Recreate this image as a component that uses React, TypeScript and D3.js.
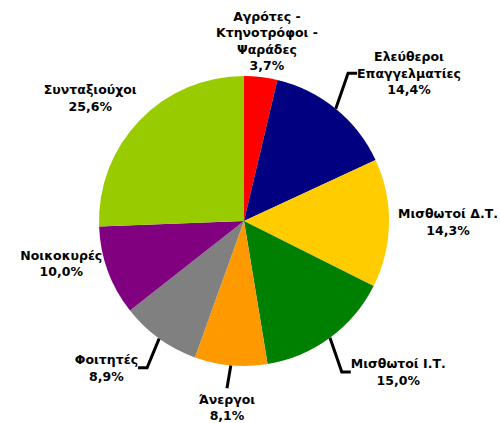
import React, { useMemo } from 'react';
import * as d3 from 'd3';

// occupation groups, clockwise from 12 o'clock
const categories = [
  ['Αγρότες -', 'Κτηνοτρόφοι -', 'Ψαράδες'],
  ['Ελεύθεροι', 'Επαγγελματίες'],
  ['Μισθωτοί Δ.Τ.'],
  ['Μισθωτοί Ι.Τ.'],
  ['Άνεργοι'],
  ['Φοιτητές'],
  ['Νοικοκυρές'],
  ['Συνταξιούχοι'],
];
const shares = [3.7, 14.4, 14.3, 15.0, 8.1, 8.9, 10.0, 25.6];
const colors = ['#FF0000', '#000080', '#FFCC00', '#008000', '#FF9900', '#808080', '#800080', '#99CC00'];

// label placement: distance from centre, angle nudge (deg), leader type
const labelLayout = [
  { r: 149, da: 2.2, leader: 'none' },
  { r: 186, da: -1.8, leader: 'side' },
  { r: 154, da: -0.5, leader: 'none' },
  { r: 185, da: 1.1, leader: 'side' },
  { r: 168, da: 0.6, leader: 'top' },
  { r: 181, da: 0, leader: 'side' },
  { r: 148, da: 3.4, leader: 'none' },
  { r: 151, da: 0.8, leader: 'none' },
];

const width = 500;
const height = 423;
const cx = 244;
const cy = 221;
const radius = 145;
const lineH = 16.5;
const font = "bold 12.5px 'DejaVu Sans'";

const polar = (a: number, r: number) => [cx + r * Math.sin(a), cy - r * Math.cos(a)];

const App = () => {
  const measure = useMemo(() => {
    const ctx = document.createElement('canvas').getContext('2d');
    return (t: string) => {
      if (!ctx) return t.length * 7.5;
      ctx.font = font;
      return ctx.measureText(t).width;
    };
  }, []);

  const arcs = d3.pie<number>().sort(null).value((d) => d)(shares);
  const arcGen = d3.arc<d3.PieArcDatum<number>>().innerRadius(0).outerRadius(radius);

  const labels = arcs.map((a, i) => {
    const lay = labelLayout[i];
    const mid = (a.startAngle + a.endAngle) / 2;
    const ang = mid + (lay.da * Math.PI) / 180;
    const [ax, ay] = polar(ang, lay.r);
    const lines = [...categories[i], shares[i].toFixed(1).replace('.', ',') + '%'];
    const w = d3.max(lines, measure) || 0;
    const h = lines.length * lineH;
    const s = Math.sin(ang);
    const c = Math.cos(ang);
    let bx = ax;
    let by = ay;
    let leader: string | null = null;
    if (lay.leader === 'side') {
      bx = s > 0 ? ax + w / 2 : ax - w / 2;
      by = ay;
      const [sx, sy] = polar(mid, radius);
      const ex = s > 0 ? ax - 9 : ax + 9;
      leader = `M${sx},${sy}L${ex},${ay}L${ax},${ay}`;
    } else if (lay.leader === 'top') {
      bx = ax;
      by = ay + 3 + h / 2;
      const [sx, sy] = polar(mid, radius);
      leader = `M${sx},${sy}L${ax},${ay}`;
    } else {
      bx = s > 0.3 ? ax + w / 2 : s < -0.3 ? ax - w / 2 : ax;
      by = c > 0.3 ? ay - h / 2 : c < -0.3 ? ay + h / 2 : ay;
    }
    return { lines, bx, by, h, leader };
  });

  return (
    <svg width={width} height={height} style={{ position: 'absolute', left: 0, top: 0 }}>
      <rect width={width} height={height} fill="#fff" />
      {arcs.map((a, i) => (
        <path key={i} d={arcGen(a) || undefined} transform={`translate(${cx},${cy})`} fill={colors[i]} />
      ))}
      {labels.map((l, i) => (
        <g key={i}>
          {l.leader && (
            <path d={l.leader} fill="none" stroke="#000" strokeWidth={3} strokeLinejoin="miter" />
          )}
          <text
            textAnchor="middle"
            style={{ font, fill: '#000' }}
          >
            {l.lines.map((t, j) => (
              <tspan key={j} x={l.bx} y={l.by - l.h / 2 + lineH / 2 + j * lineH} dominantBaseline="central">
                {t}
              </tspan>
            ))}
          </text>
        </g>
      ))}
    </svg>
  );
};

export default App;
